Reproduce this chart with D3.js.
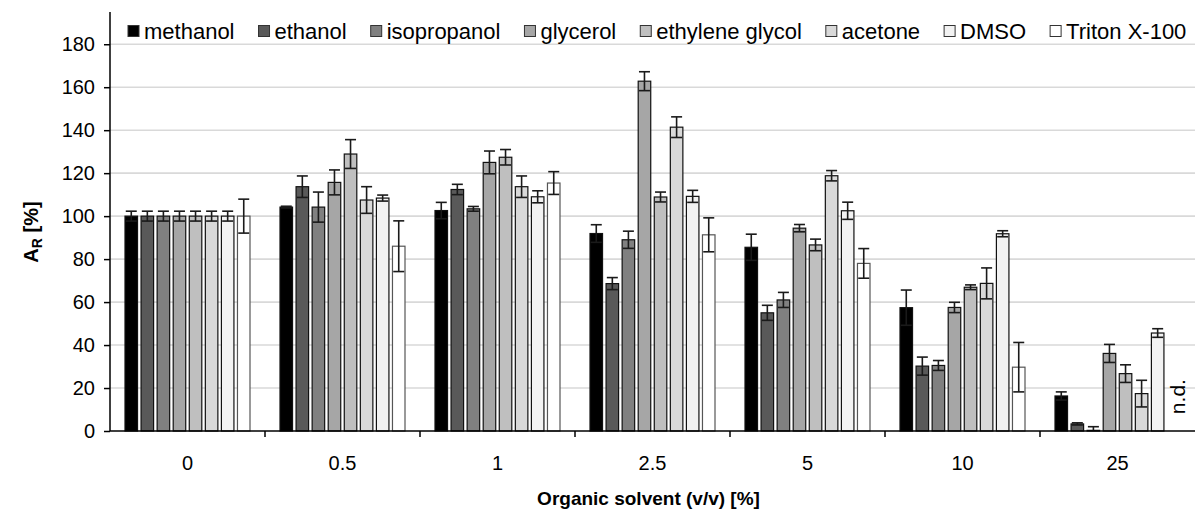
<!DOCTYPE html>
<html>
<head>
<meta charset="utf-8">
<script src="https://cdn.jsdelivr.net/npm/d3@7"></script>
<style>
  body { margin: 0; background: #fff; }
  svg { display: block; font-family: Arial, "Liberation Sans", sans-serif; }
  .axis path, .axis line { stroke: #000; stroke-width: 1.5; }
  .axis text { font-size: 20px; fill: #000; }
  .grid line { stroke: #d9d9d9; stroke-width: 1.6; }
</style>
</head>
<body>
<div id="chart"></div>
<script>
// concentrations of organic solvent (v/v) [%]
var categories = ["0", "0.5", "1", "2.5", "5", "10", "25"];
var seriesNames = ["methanol", "ethanol", "isopropanol", "glycerol", "ethylene glycol", "acetone", "DMSO", "Triton X-100"];
var seriesColors = ["#000000", "#595959", "#808080", "#a6a6a6", "#bfbfbf", "#d9d9d9", "#f2f2f2", "#ffffff"];
var yTicks = [0, 20, 40, 60, 80, 100, 120, 140, 160, 180];

// relative activity A_R [%] and its error, one array per solvent (null = n.d.)
var methanol       = [100, 104.2, 102.6, 91.9, 85.5, 57.4, 16.3];
var methanolErr    = [2.3, 0.4, 3.8, 4.1, 6.1, 8.2, 1.9];
var ethanol        = [100, 113.7, 112.4, 68.6, 55.0, 30.2, 3.3];
var ethanolErr     = [2.3, 5.0, 2.4, 2.8, 3.5, 4.2, 0.5];
var isopropanol    = [100, 104.2, 103.4, 89.0, 61.0, 30.5, 0.3];
var isopropanolErr = [2.3, 7.0, 1.1, 4.0, 3.5, 2.3, 1.7];
var glycerol       = [100, 115.7, 125.0, 162.8, 94.4, 57.5, 36.1];
var glycerolErr    = [2.3, 5.8, 5.3, 4.4, 1.7, 2.4, 4.2];
var ethGlycol      = [100, 128.9, 127.4, 108.9, 86.6, 66.9, 26.7];
var ethGlycolErr   = [2.3, 6.7, 3.6, 2.3, 2.7, 1.1, 4.1];
var acetone        = [100, 107.5, 113.7, 141.4, 118.8, 68.7, 17.4];
var acetoneErr     = [2.3, 6.2, 5.0, 4.8, 2.4, 7.2, 6.2];
var dmso           = [100, 108.4, 109.0, 109.2, 102.5, 91.8, 45.6];
var dmsoErr        = [2.3, 1.4, 2.8, 2.8, 4.0, 1.4, 2.0];
var triton         = [100, 86.0, 115.4, 91.3, 78.0, 29.7, null];
var tritonErr      = [7.9, 11.8, 5.3, 7.9, 6.9, 11.5, null];

var seriesValues = [methanol, ethanol, isopropanol, glycerol, ethGlycol, acetone, dmso, triton];
var seriesErrors = [methanolErr, ethanolErr, isopropanolErr, glycerolErr, ethGlycolErr, acetoneErr, dmsoErr, tritonErr];

var width = 1195, height = 510;
var margin = {top: 12, right: 0, bottom: 79, left: 110};
var w = width - margin.left - margin.right;
var h = height - margin.top - margin.bottom;

var svg = d3.select("#chart").append("svg").attr("width", width).attr("height", height);
var g = svg.append("g").attr("transform", "translate(" + margin.left + "," + margin.top + ")");

var x0 = d3.scaleBand().domain(categories).range([0, w]).paddingInner(0).paddingOuter(0);
var x1 = d3.scaleBand().domain(seriesNames).range([15, x0.bandwidth() - 15]).paddingInner(0.22).paddingOuter(0);
var y = d3.scaleLinear().domain([0, 195]).range([h, 0]);

// gridlines
g.append("g").attr("class", "grid")
  .selectAll("line").data(yTicks.filter(function(d) { return d > 0; }))
  .enter().append("line")
  .attr("x1", 0).attr("x2", w)
  .attr("y1", function(d) { return y(d); })
  .attr("y2", function(d) { return y(d); });

// flatten data
var rows = [];
categories.forEach(function(c, ci) {
  seriesNames.forEach(function(s, si) {
    rows.push({cat: c, series: s, si: si, v: seriesValues[si][ci], e: seriesErrors[si][ci]});
  });
});
var valid = rows.filter(function(d) { return d.v !== null; });

// bars
g.append("g").selectAll("rect").data(valid).enter().append("rect")
  .attr("x", function(d) { return x0(d.cat) + x1(d.series); })
  .attr("y", function(d) { return y(d.v); })
  .attr("width", x1.bandwidth())
  .attr("height", function(d) { return y(0) - y(d.v); })
  .attr("fill", function(d) { return seriesColors[d.si]; })
  .attr("stroke", function(d) { return d.si == 7 ? "#555" : "#111"; })
  .attr("stroke-width", 1.2);

// error bars
var eb = g.append("g").attr("stroke", "#1a1a1a").attr("stroke-width", 1.6)
  .selectAll("g").data(valid).enter().append("g")
  .attr("transform", function(d) { return "translate(" + (x0(d.cat) + x1(d.series) + x1.bandwidth() / 2) + ",0)"; });
var capw = 5.5;
eb.append("line").attr("x1", 0).attr("x2", 0)
  .attr("y1", function(d) { return y(Math.max(0, d.v - d.e)); })
  .attr("y2", function(d) { return y(d.v + d.e); });
eb.append("line").attr("x1", -capw).attr("x2", capw)
  .attr("y1", function(d) { return y(d.v + d.e); })
  .attr("y2", function(d) { return y(d.v + d.e); });
eb.filter(function(d) { return d.v - d.e > 0; })
  .append("line").attr("x1", -capw).attr("x2", capw)
  .attr("y1", function(d) { return y(d.v - d.e); })
  .attr("y2", function(d) { return y(d.v - d.e); });

// n.d. labels
g.append("g").selectAll("text").data(rows.filter(function(d) { return d.v === null; }))
  .enter().append("text")
  .attr("transform", function(d) {
    return "translate(" + (x0(d.cat) + x1(d.series) + x1.bandwidth() / 2 + 11) + "," + y(16) + ") rotate(-90)";
  })
  .attr("text-anchor", "middle")
  .attr("font-size", 21)
  .text("n.d.");

// axes
var yAxis = d3.axisLeft(y).tickValues(yTicks).tickSize(6).tickPadding(9);
var yg = g.append("g").attr("class", "axis").call(yAxis);
yg.select(".domain").attr("d", "M0," + y(195) + "V" + h);

var xAxis = d3.axisBottom(x0).tickSize(0).tickPadding(25);
var xg = g.append("g").attr("class", "axis").attr("transform", "translate(0," + h + ")").call(xAxis);
xg.select(".domain").attr("d", "M0,0H" + w);
// ticks at group boundaries
xg.selectAll(".bound").data(categories.slice(1)).enter().append("line")
  .attr("class", "bound")
  .attr("x1", function(d) { return x0(d); }).attr("x2", function(d) { return x0(d); })
  .attr("y1", 0).attr("y2", 6);

// axis titles
svg.append("text")
  .attr("x", margin.left + w / 2 - 4).attr("y", 505)
  .attr("text-anchor", "middle").attr("font-weight", "bold").attr("font-size", 19)
  .text("Organic solvent (v/v) [%]");

var yt = svg.append("text")
  .attr("transform", "translate(38,232) rotate(-90)")
  .attr("text-anchor", "middle").attr("font-weight", "bold").attr("font-size", 20);
yt.append("tspan").text("A");
yt.append("tspan").attr("font-size", 14).attr("dy", 4).text("R");
yt.append("tspan").attr("dy", -4).text(" [%]");

// legend
var legend = svg.append("g").attr("transform", "translate(128,31)");
var lx = 0;
seriesNames.forEach(function(s, i) {
  var item = legend.append("g").attr("transform", "translate(" + lx + ",0)");
  item.append("rect").attr("x", 0).attr("y", -5.5).attr("width", 11).attr("height", 11)
    .attr("fill", seriesColors[i]).attr("stroke", "#333").attr("stroke-width", 1);
  var t = item.append("text").attr("x", 16).attr("y", 8).attr("font-size", 22).text(s);
  lx += 16 + t.node().getComputedTextLength() + 24;
});
</script>
</body>
</html>
